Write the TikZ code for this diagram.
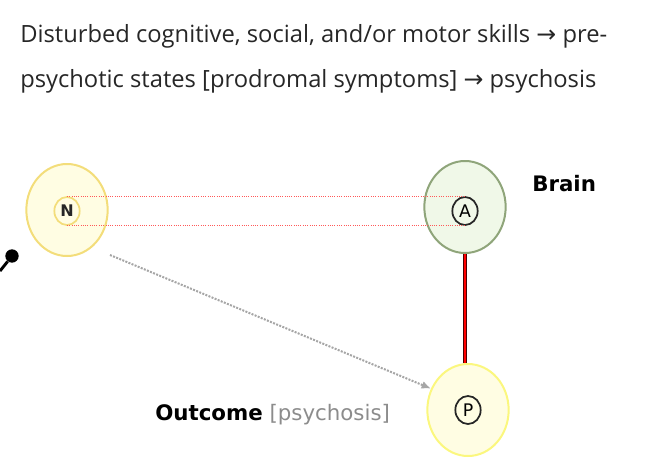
\documentclass[tikz,border=0pt]{standalone}
\usepackage{fontspec}
\setmainfont{Open Sans}
\newfontfamily\labelfont{DejaVu Sans}
\usepackage{xcolor}
\usepackage{tikz}
\usetikzlibrary{shapes.geometric,arrows.meta,positioning,calc}

\definecolor{nfill}{HTML}{FFFDE3}
\definecolor{nline}{HTML}{F3DD7A}
\definecolor{afill}{HTML}{F0F8E8}
\definecolor{aline}{HTML}{8FA57A}
\definecolor{pline}{HTML}{FBF77E}

\tikzset{
  outer/.style={draw,ellipse,line width=1.5pt,minimum width=61pt,minimum height=69pt},
  inner/.style={draw,ellipse,line width=1.3pt,minimum width=19pt,minimum height=21pt,inner sep=0pt,font=\labelfont\fontsize{13}{14}\selectfont},
  tie/.style={densely dotted,red!65,line width=0.7pt}
}

\begin{document}
\begin{tikzpicture}[x=0.75pt,y=-0.75pt]
            \useasboundingbox (0,0) rectangle (652,460);

            % Heading
            \node[anchor=base west,inner sep=0pt,font=\fontsize{17.8}{20}\selectfont,text=black!85] (head1) at (20,43)
                {Disturbed cognitive, social, and/or motor skills {\labelfont →} pre-};
            \node[anchor=base west,inner sep=0pt,font=\fontsize{17.8}{20}\selectfont,text=black!85] (head2) at (20,87)
                {psychotic states [prodromal symptoms] {\labelfont →} psychosis};

            % Nodes
            \node[outer,fill=nfill,draw=nline] (n) at (67,210) {};
            \node[inner,draw=nline,text=black!85,font=\labelfont\bfseries\fontsize{12}{14}\selectfont] (nin) at (67,211) {N};

            \node[outer,fill=afill,draw=aline] (a) at (465,207) {};
            \node[inner,draw=black!85] (ain) at (465,211) {A};

            \node[outer,fill=nfill,draw=pline] (p) at (468,410) {};
            \node[inner,draw=black!85] (pin) at (468,410) {P};

            % Labels
            \node[anchor=base west,inner sep=0pt,font=\labelfont\bfseries\fontsize{16}{18}\selectfont] (brain) at (532,191) {Brain};
            \node[anchor=base west,inner sep=0pt,font=\labelfont\fontsize{16}{18}\selectfont] (outcome) at (155,420)
                {\textbf{Outcome} \textcolor{black!45}{[psychosis]}};

            % Links
            \draw[tie] (nin.north) -- (ain.north);
            \draw[tie] (nin.south) -- (ain.south);
            \draw[line width=1pt,draw=black!70!red,double=red,double distance=1.4pt] (a.south) -- (a.south |- p.north);
            \coordinate (nout) at (110,255);
            \draw[densely dotted,black!35,line width=1.5pt,-{Latex[length=7pt,width=6pt]}] (nout) -- (p.150);

            % Pin on the left
            \node[circle,fill=black,inner sep=0pt,minimum size=10pt] (knob) at (12,256) {};
            \coordinate (stub) at (0,271);
            \draw[line width=2.2pt] (knob) -- (stub);
        \end{tikzpicture}
\end{document}
